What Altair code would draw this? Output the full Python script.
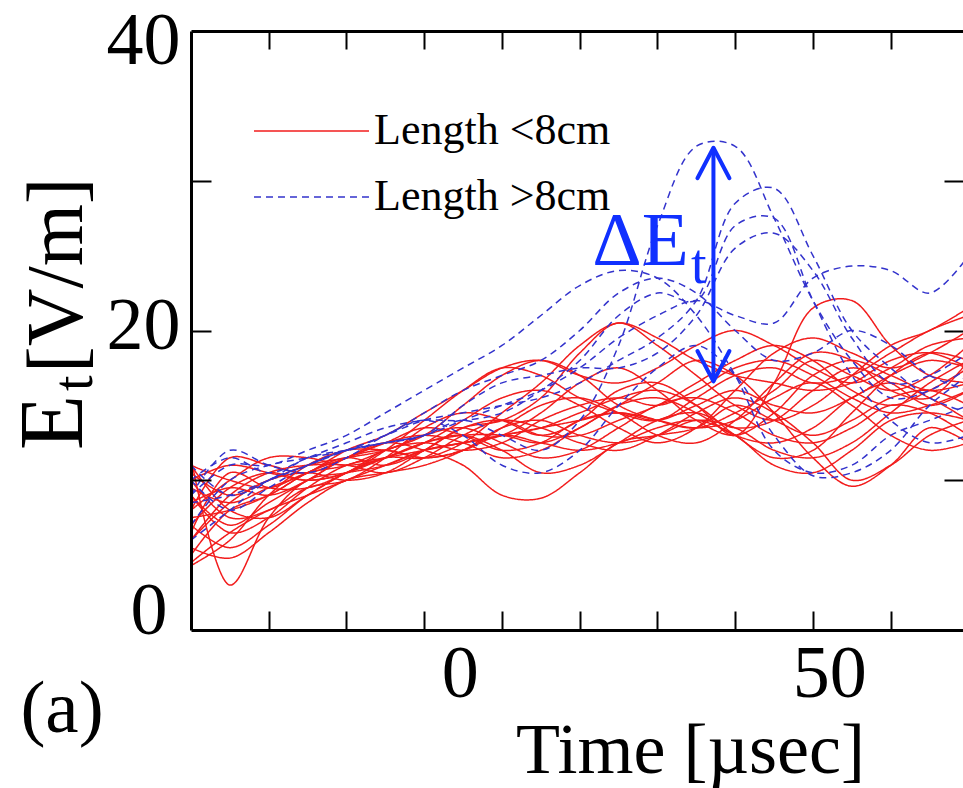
import altair as alt
import pandas as pd

# ---------------- data ----------------
TIME = [-35, -30, -25, -20, -15, -10, -5, 0, 5, 10, 15, 20, 25, 30, 35, 40, 45, 50, 55, 60, 65]

R01 = [11.5, 3.0, 7.5, 10.0, 10.5, 11.0, 12.0, 12.5, 13.0, 13.5, 14.0, 14.5, 14.0, 15.0, 16.0, 15.0, 14.5, 15.5, 17.0, 18.0, 17.5]
R02 = [11.0, 10.0, 9.5, 10.5, 11.0, 12.0, 13.0, 15.0, 17.0, 18.0, 17.0, 15.0, 14.0, 13.5, 14.5, 16.0, 18.0, 17.0, 16.0, 17.0, 19.0]
R03 = [5.0, 8.0, 9.0, 10.5, 11.5, 11.0, 12.0, 13.5, 14.0, 15.5, 18.5, 20.5, 19.0, 17.0, 15.0, 14.0, 15.0, 17.0, 19.0, 20.0, 21.5]
R04 = [9.0, 7.0, 8.5, 10.0, 11.5, 12.5, 12.0, 11.0, 9.0, 8.8, 10.5, 12.5, 13.0, 13.5, 15.0, 14.0, 13.0, 14.0, 15.5, 16.0, 15.0]
R05 = [6.0, 9.0, 10.5, 11.0, 11.0, 10.5, 11.5, 13.0, 14.0, 13.5, 12.5, 12.0, 13.0, 14.5, 15.5, 14.5, 12.5, 10.0, 11.0, 13.0, 14.0]
R06 = [8.0, 11.5, 11.0, 10.5, 11.5, 12.5, 13.0, 12.5, 11.5, 12.0, 13.5, 15.0, 16.5, 18.0, 17.0, 14.5, 11.5, 9.6, 11.0, 13.5, 12.5]
R07 = [10.0, 7.5, 8.0, 9.5, 10.0, 11.5, 13.5, 14.5, 14.0, 13.0, 14.0, 16.0, 16.5, 15.0, 13.0, 16.5, 21.5, 22.0, 19.0, 17.0, 16.5]
R08 = [4.5, 6.5, 8.0, 9.0, 10.0, 11.0, 12.0, 12.5, 13.0, 14.5, 16.5, 17.5, 16.0, 14.0, 13.0, 14.5, 17.0, 18.0, 17.0, 16.0, 16.5]
R09 = [8.5, 9.5, 9.0, 10.0, 11.5, 12.0, 11.5, 12.0, 13.5, 15.0, 15.5, 14.5, 13.0, 12.5, 14.0, 16.5, 18.5, 18.0, 16.0, 15.5, 18.0]
R10 = [7.0, 5.5, 7.0, 9.0, 10.5, 11.5, 12.5, 14.0, 15.5, 16.0, 15.0, 13.5, 12.5, 13.5, 16.0, 18.5, 19.5, 18.5, 17.5, 18.5, 20.0]
R11 = [10.5, 9.0, 10.0, 11.0, 11.5, 12.0, 13.0, 13.5, 12.5, 11.5, 12.0, 13.5, 15.0, 15.5, 14.5, 13.0, 12.5, 13.5, 15.0, 14.5, 13.0]
R12 = [6.5, 10.5, 9.5, 9.5, 10.5, 12.0, 12.5, 12.0, 12.5, 14.0, 15.0, 15.5, 15.0, 16.0, 17.5, 18.0, 17.0, 15.5, 14.5, 15.0, 16.0]
R13 = [9.5, 8.5, 9.5, 10.5, 12.0, 13.0, 14.5, 16.0, 17.5, 18.0, 17.0, 16.5, 17.5, 19.0, 20.0, 19.0, 17.5, 16.5, 17.5, 19.0, 19.5]
R14 = [5.5, 4.8, 6.5, 8.5, 10.0, 10.5, 11.0, 12.0, 13.5, 14.0, 13.0, 12.5, 13.0, 14.0, 13.5, 12.0, 11.5, 12.5, 14.5, 16.5, 18.0]
R15 = [8.0, 10.0, 11.5, 11.5, 11.0, 11.5, 12.5, 13.0, 13.0, 12.5, 13.5, 15.0, 15.5, 14.5, 13.0, 12.5, 13.5, 15.5, 16.5, 15.5, 14.0]
R16 = [11.0, 8.0, 7.5, 9.0, 10.5, 11.5, 11.5, 12.5, 14.5, 16.5, 19.0, 20.5, 19.5, 18.0, 17.0, 16.5, 16.0, 16.5, 18.0, 18.5, 17.5]
R17 = [7.5, 8.0, 9.0, 10.5, 11.5, 12.5, 13.5, 13.0, 12.0, 12.5, 14.0, 14.5, 14.0, 13.5, 14.0, 15.5, 16.5, 15.0, 13.0, 12.0, 12.5]
R18 = [9.0, 6.5, 7.5, 9.5, 11.0, 11.5, 12.0, 12.5, 13.0, 13.5, 14.5, 15.5, 16.0, 15.0, 13.0, 11.5, 12.0, 14.5, 17.0, 18.5, 18.0]
R19 = [6.0, 8.5, 10.0, 10.5, 10.0, 10.5, 12.0, 13.5, 14.0, 13.0, 13.0, 14.0, 15.0, 16.5, 18.0, 19.0, 18.0, 16.0, 15.0, 16.0, 17.5]
R20 = [10.0, 11.0, 10.5, 10.0, 10.5, 11.5, 12.5, 13.0, 12.0, 10.5, 11.0, 12.5, 14.0, 14.5, 13.5, 14.0, 16.0, 17.5, 16.5, 15.0, 16.0]
R21 = [4.3, 6.0, 9.0, 11.0, 12.0, 12.0, 11.5, 12.0, 13.0, 12.5, 12.0, 12.5, 13.5, 14.0, 13.0, 11.0, 10.5, 12.0, 14.0, 14.5, 14.0]
R22 = [7.0, 9.5, 10.5, 10.0, 10.5, 12.0, 14.0, 16.0, 17.5, 17.0, 15.5, 14.5, 14.0, 15.5, 17.0, 17.5, 16.5, 17.0, 18.5, 20.0, 21.0]

B1 = [11.0, 9.0, 10.0, 11.5, 12.0, 12.5, 13.0, 14.0, 13.0, 12.0, 14.0, 19.0, 27.0, 32.3, 32.3, 27.5, 22.0, 18.0, 15.5, 16.0, 17.5]
B2 = [7.0, 10.0, 11.0, 11.5, 12.0, 13.0, 14.0, 14.5, 15.0, 15.5, 16.5, 18.0, 19.5, 22.0, 28.5, 29.5, 25.0, 20.0, 17.5, 15.5, 14.5]
B3 = [10.0, 11.5, 10.5, 11.5, 12.5, 13.5, 14.0, 14.0, 14.5, 16.0, 18.0, 21.0, 22.5, 22.0, 27.0, 27.5, 22.0, 17.0, 14.0, 12.5, 13.0]
B4 = [8.5, 9.0, 10.0, 11.0, 12.0, 12.5, 13.0, 15.0, 16.5, 17.0, 17.5, 17.5, 18.5, 21.0, 25.5, 26.5, 24.0, 19.5, 16.5, 17.0, 18.5]
B5 = [9.0, 11.0, 11.0, 12.0, 13.0, 14.5, 16.0, 17.5, 19.0, 21.0, 23.0, 24.0, 23.5, 21.0, 17.0, 12.0, 10.5, 11.0, 13.0, 14.0, 15.0]
B6 = [10.0, 8.0, 9.5, 11.0, 12.0, 12.5, 13.0, 14.0, 15.0, 16.0, 17.5, 19.5, 21.0, 22.0, 21.0, 20.5, 23.5, 24.3, 24.0, 22.5, 25.0]
B7 = [9.0, 12.0, 11.0, 10.5, 11.5, 13.0, 14.0, 13.0, 11.0, 10.5, 12.0, 15.0, 17.5, 19.0, 17.0, 13.0, 10.3, 10.5, 12.0, 15.0, 17.0]
B8 = [6.0, 8.0, 10.0, 11.0, 12.0, 13.0, 14.5, 16.0, 17.0, 18.0, 20.0, 22.5, 23.5, 22.5, 20.0, 18.0, 18.5, 20.0, 19.0, 17.0, 16.0]

RED_CURVES = [R01, R02, R03, R04, R05, R06, R07, R08, R09, R10, R11,
              R12, R13, R14, R15, R16, R17, R18, R19, R20, R21, R22]
BLUE_CURVES = [B1, B2, B3, B4, B5, B6, B7, B8]

SHORT = "Length <8cm"
LONG = "Length >8cm"

X_DOMAIN = [-35, 64.3]
Y_DOMAIN = [0, 40]
X_TICKS = [-25, -15, -5, 5, 15, 25, 35, 45, 55]
Y_TICKS = [10, 20, 30]
X_LABELS = [0, 50]
Y_LABELS = [0, 20, 40]

# delta-E arrow (time, low, high) and its label
ARROW_T = [32.2]
ARROW_LO = [16.6]
ARROW_HI = [32.2]
DELTA_T = [16.6]
DELTA_V = [24.4]
SUB_T = [29.3]
SUB_V = [23.2]

# ---------------- build table ----------------
rows = []
for i, c in enumerate(RED_CURVES):
    for t, v in zip(TIME, c):
        rows.append({"t": t, "v": v, "curve": f"a{i:02d}", "group": SHORT})
for i, c in enumerate(BLUE_CURVES):
    for t, v in zip(TIME, c):
        rows.append({"t": t, "v": v, "curve": f"b{i:02d}", "group": LONG})
df = pd.DataFrame(rows)

W, H = 772, 599
FONT = "Liberation Serif"
BLUE = "#1030ff"
RED = "#f21c1c"
DBLUE = "#3333cc"

xs = alt.Scale(domain=X_DOMAIN, nice=False, zero=False)
ys = alt.Scale(domain=Y_DOMAIN, nice=False, zero=False)

legend = alt.Legend(
    orient="none", legendX=62, legendY=78, title=None,
    symbolType="stroke", symbolSize=13225, symbolStrokeWidth=1.5,
    labelFont=FONT, labelFontSize=44, labelColor="black", labelOffset=4,
    labelLimit=500, rowPadding=22, clipHeight=44, padding=0,
)

x_main = alt.Axis(
    orient="bottom", values=X_LABELS, ticks=False, grid=False,
    domainColor="black", domainWidth=3, zindex=1,
    labelFont=FONT, labelFontSize=74, labelColor="black", labelPadding=8,
    labelFlush=False, labelOverlap=False,
    labelOffset={"condition": {"test": "datum.value == 50", "value": -22.6}, "value": -3.4},
    title="Time [µsec]", titleFont=FONT, titleFontSize=72, titleFontWeight="normal",
    titleColor="black", titleX=499, titleY=142, titleAlign="center", titleBaseline="alphabetic",
)
y_main = alt.Axis(
    orient="left", values=Y_LABELS, ticks=False, grid=False,
    domainColor="black", domainWidth=3, zindex=1,
    labelFont=FONT, labelFontSize=74, labelColor="black",
    labelFlush=False, labelOverlap=False,
    labelPadding={"condition": {"test": "datum.value == 0", "value": 24}, "value": 11},
    labelOffset={"condition": [{"test": "datum.value == 40", "value": 10},
                               {"test": "datum.value == 20", "value": -4}], "value": -18.5},
    title=None,
)

lines = alt.Chart(df).mark_line(interpolate="catmull-rom", strokeWidth=1.5).encode(
    x=alt.X("t:Q", scale=xs, axis=x_main),
    y=alt.Y("v:Q", scale=ys, axis=y_main),
    color=alt.Color("group:N", scale=alt.Scale(domain=[SHORT, LONG], range=[RED, DBLUE]), legend=legend),
    strokeDash=alt.StrokeDash("group:N", scale=alt.Scale(domain=[SHORT, LONG], range=[[1, 0], [7, 5]]), legend=legend),
    detail="curve:N",
)

# inward ticks and the top frame line, drawn by extra axes placed on the opposite edges
frame_df = pd.DataFrame({"t": [X_DOMAIN[0]], "v": [Y_DOMAIN[0]]})
ticks_a = alt.Chart(frame_df).mark_point(opacity=0).encode(
    x=alt.X("t:Q", scale=xs, axis=alt.Axis(orient="top", offset=-H, values=X_TICKS, labels=False,
                                          domain=False, tickSize=19, tickWidth=2, tickColor="black",
                                          grid=False, title=None, zindex=1)),
    y=alt.Y("v:Q", scale=ys, axis=alt.Axis(orient="right", offset=-W, values=Y_TICKS, labels=False,
                                          domain=False, tickSize=20, tickWidth=2, tickColor="black",
                                          grid=False, title=None, zindex=1)),
)
ticks_b = alt.Chart(frame_df).mark_point(opacity=0).encode(
    x=alt.X("t:Q", scale=xs, axis=alt.Axis(orient="bottom", offset=-H, values=X_TICKS, labels=False,
                                          domain=True, domainColor="black", domainWidth=3,
                                          tickSize=18, tickWidth=2, tickColor="black",
                                          grid=False, title=None, zindex=1)),
    y=alt.Y("v:Q", scale=ys, axis=alt.Axis(orient="left", offset=-W, values=Y_TICKS, labels=False,
                                          domain=False, tickSize=19, tickWidth=2, tickColor="black",
                                          grid=False, title=None, zindex=1)),
)

arrow_df = pd.DataFrame({"t": ARROW_T, "lo": ARROW_LO, "hi": ARROW_HI})
arrow_rule = alt.Chart(arrow_df).mark_rule(color=BLUE, strokeWidth=4).encode(
    x=alt.X("t:Q", scale=xs, axis=None),
    y=alt.Y("lo:Q", scale=ys, axis=None),
    y2="hi:Q",
)
head_top = alt.Chart(arrow_df).mark_point(
    shape="M-1,1.9L0,0L1,1.9", size=1024, filled=False, color=BLUE,
    strokeWidth=4, opacity=1, strokeCap="round", strokeJoin="round",
).encode(x=alt.X("t:Q", scale=xs, axis=None), y=alt.Y("hi:Q", scale=ys, axis=None))
head_bot = alt.Chart(arrow_df).mark_point(
    shape="M-1,-1.9L0,0L1,-1.9", size=1024, filled=False, color=BLUE,
    strokeWidth=4, opacity=1, strokeCap="round", strokeJoin="round",
).encode(x=alt.X("t:Q", scale=xs, axis=None), y=alt.Y("lo:Q", scale=ys, axis=None))

delta_df = pd.DataFrame({"t": DELTA_T, "v": DELTA_V, "s": ["ΔE"]})
delta = alt.Chart(delta_df).mark_text(
    align="left", baseline="alphabetic", font=FONT, fontSize=77, color=BLUE
).encode(x=alt.X("t:Q", scale=xs, axis=None), y=alt.Y("v:Q", scale=ys, axis=None), text="s:N")
sub_df = pd.DataFrame({"t": SUB_T, "v": SUB_V, "s": ["t"]})
sub_t = alt.Chart(sub_df).mark_text(
    align="left", baseline="alphabetic", font=FONT, fontSize=56, color=BLUE
).encode(x=alt.X("t:Q", scale=xs, axis=None), y=alt.Y("v:Q", scale=ys, axis=None), text="s:N")

# y-axis title built from pieces (E, subscript t, [V/m])
yt_e = alt.Chart(pd.DataFrame({"s": ["E"]})).mark_text(
    angle=270, align="left", baseline="alphabetic", font=FONT, fontSize=90, color="black"
).encode(text="s:N", x=alt.value(-109), y=alt.value(419))
yt_t = alt.Chart(pd.DataFrame({"s": ["t"]})).mark_text(
    angle=270, align="left", baseline="alphabetic", font=FONT, fontSize=56, color="black"
).encode(text="s:N", x=alt.value(-99), y=alt.value(360))
yt_rest = alt.Chart(pd.DataFrame({"s": ["[V/m]"]})).mark_text(
    angle=270, align="left", baseline="alphabetic", font=FONT, fontSize=80, color="black"
).encode(text="s:N", x=alt.value(-109), y=alt.value(342))

panel = alt.Chart(pd.DataFrame({"s": ["(a)"]})).mark_text(
    align="center", baseline="alphabetic", font=FONT, fontSize=75, color="black"
).encode(text="s:N", x=alt.value(-129), y=alt.value(701))

chart = alt.layer(
    lines, ticks_a, ticks_b, arrow_rule, head_top, head_bot, delta, sub_t,
    yt_e, yt_t, yt_rest, panel,
).resolve_axis(x="independent", y="independent").properties(
    width=W, height=H,
    padding={"left": 191, "top": 31, "right": 0, "bottom": 158},
    autosize=alt.AutoSizeParams(type="none"),
    background="white",
).configure_view(stroke=None)

chart.save("out.html", embed_options={"renderer": "svg", "actions": False})
